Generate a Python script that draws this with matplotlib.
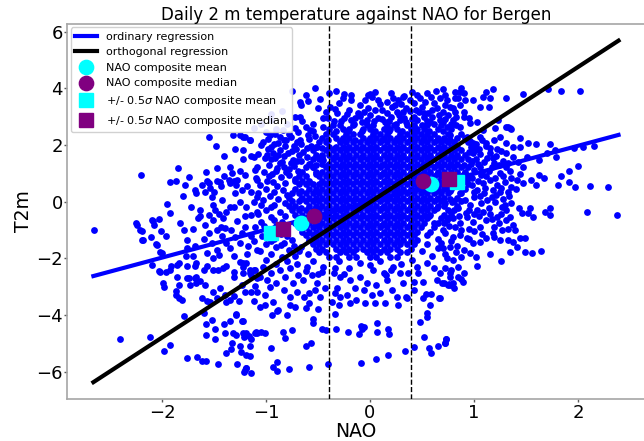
import matplotlib
matplotlib.use("Agg")
import matplotlib.pyplot as plt

# ---------------- data ----------------
left_points = [
(-2.65,-0.99),(-2.20,0.94),(-1.55,2.27),(-1.32,2.34),(-1.25,2.36),(-1.22,2.30),(-1.15,2.16),(-1.95,-0.09),(-2.25,-0.74),(-2.19,-1.03),(-2.09,-0.67),(-2.03,-0.61),(-2.01,-1.02),(-2.19,-1.35),(-2.11,-1.25),(-2.06,-1.48),(-2.02,-1.76),(-1.92,0.71),(-1.87,0.74),(-1.85,1.20),(-1.74,0.86),(-1.78,0.59),
(-1.14,1.63),(-1.22,1.50),(-1.35,1.24),(-1.33,1.00),(-1.25,1.10),(-1.20,0.94),(-1.11,1.12),(-1.09,0.77),(-1.28,0.77),(-1.31,0.74),(-1.29,0.59),(-1.36,0.77),(-1.35,0.65),(-1.44,0.68),(-1.47,0.72),(-1.43,0.54),(-1.57,0.72),(-1.55,0.65),(-1.62,0.59),(-1.54,0.48),(-1.50,0.36),(-1.68,0.42),(-1.67,0.30),(-1.59,0.36),(-1.51,-0.12),(-1.49,-0.29),
(-1.63,-0.29),(-1.63,-0.52),(-1.55,-0.47),(-1.65,-0.59),(-1.59,-0.82),(-1.51,-0.65),(-1.41,-0.59),(-1.38,-0.35),(-1.43,-0.88),(-1.39,-0.93),(-1.34,-1.00),(-1.47,-1.00),(-1.55,-1.12),(-1.20,-0.52),(-1.14,-0.47),(-1.09,-0.35),(-1.20,-0.88),(-1.11,-0.88),(-1.31,-0.17),(-1.25,0.00),(-1.19,-0.17),(-1.12,0.00),(-1.09,0.18),(-1.30,0.30),(-1.23,0.42),(-1.14,0.36),(-1.18,0.54),
(-2.10,-0.64),(-2.08,-0.82),(-2.05,-1.52),(-2.00,-1.82),(-1.92,-2.40),(-1.84,-2.17),(-1.77,-1.93),(-1.76,-1.64),(-1.68,-1.58),(-1.70,-1.93),(-1.68,-2.28),(-1.86,-2.64),(-1.76,-2.70),(-1.67,-2.64),(-1.60,-2.40),(-1.51,-2.00),(-1.47,-1.70),(-1.46,-2.40),(-1.38,-2.28),(-1.31,-1.93),(-1.25,-2.11),(-1.19,-2.17),(-1.12,-2.40),(-1.31,-2.64),(-1.22,-2.53),(-1.09,-1.70),(-1.57,-1.82),(-1.52,-1.46),(-1.38,-1.46),(-1.35,-1.64),(-1.25,-1.46),(-1.17,-1.58),(-1.14,-1.22),(-1.23,-1.10),(-2.21,-0.99),(-2.24,-0.82),(-2.18,-1.34),(-1.96,-1.22),(-1.92,-0.41),(-1.83,-0.76),(-1.79,-0.99),(-1.76,-1.34),
(-1.58,1.05),(-1.47,1.18),(-1.40,0.92),(-1.52,0.15),(-1.42,0.05),(-1.35,-0.20),(-1.45,-0.45),(-1.28,-0.68),(-1.30,-1.25),(-1.42,-1.20),(-1.60,-1.30),(-1.70,-0.95),(-1.72,-0.20),(-1.80,0.20),(-1.40,1.60),(-1.30,1.85),(-1.48,1.95),(-1.12,-1.40),(-1.18,-1.85),(-1.45,-1.88),
]

lower_left_points = [
(-2.40,-4.84),(-2.12,-4.77),(-1.92,-5.07),(-1.98,-5.28),(-1.76,-5.53),(-1.66,-5.49),(-1.62,-5.63),(-1.58,-5.63),(-1.46,-5.74),(-1.28,-5.74),(-1.20,-5.92),(-1.19,-5.88),(-1.14,-6.03),(-1.79,-4.02),(-1.58,-4.70),(-1.58,-4.32),(-1.52,-4.18),(-1.49,-4.50),(-1.40,-4.32),(-1.35,-4.21),(-1.32,-4.62),(-1.29,-4.00),(-1.22,-4.21),(-1.33,-4.98),(-1.34,-5.21),(-1.38,-5.35),(-1.25,-5.09),(-1.24,-5.29),(-1.15,-5.43),(-1.09,-4.62),(-1.16,-4.74),(-1.22,-4.62),(-1.14,-4.86),(-1.29,-4.71),(-1.39,-4.64),(-1.49,-4.86),
(-2.02,-2.47),(-1.96,-2.47),(-1.99,-2.88),(-1.98,-3.00),(-1.87,-3.14),(-1.87,-3.29),(-1.84,-3.40),(-1.81,-3.48),(-1.84,-2.94),(-1.74,-2.70),(-1.73,-2.94),(-1.68,-2.70),(-1.67,-2.87),(-1.63,-2.81),(-1.59,-2.94),(-1.62,-3.40),(-1.57,-3.52),(-1.60,-3.94),(-1.54,-3.55),(-1.51,-3.17),(-1.47,-3.40),(-1.44,-3.05),(-1.39,-3.29),(-1.38,-3.55),(-1.35,-3.47),(-1.31,-3.34),(-1.29,-3.97),(-1.26,-3.52),(-1.20,-3.17),(-1.23,-2.94),(-1.14,-3.20),(-1.12,-3.52),(-1.11,-2.97),(-1.09,-2.70),(-1.14,-2.58),
(-2.10,-2.23),(-2.03,-2.44),(-1.91,-2.28),(-1.86,-2.23),(-1.76,-2.26),(-1.67,-2.17),(-1.57,-2.28),(-1.51,-2.40),(-1.41,-2.34),(-1.31,-2.47),(-1.22,-2.17),(-1.15,-2.40),
]

lower_mid_points = [
(0.34,-5.25),(0.42,-5.11),(0.57,-5.17),(0.59,-5.32),(0.65,-5.08),(0.73,-4.85),(0.72,-4.97),(0.52,-4.79),(0.48,-4.26),(0.55,-3.92),(0.55,-4.07),(0.58,-3.65),(0.54,-3.26),(0.59,-3.26),(0.66,-3.38),(0.51,-3.40),(0.42,-3.12),(0.42,-2.85),(0.36,-3.38),(0.17,-5.41),(0.06,-5.54),(-0.09,-5.70),(0.17,-4.50),(0.18,-4.68),(0.07,-4.29),(0.07,-4.58),(-0.11,-4.68),(-0.08,-4.49),(-0.06,-4.43),(-0.09,-4.38),(-0.21,-4.60),(-0.33,-4.48),(-0.40,-5.74),(-0.34,-3.96),(-0.46,-4.49),(-0.42,-4.52),(-0.50,-3.79),(-0.59,-5.82),(-0.57,-5.00),(-0.62,-5.09),(-0.55,-4.14),(-0.55,-4.29),(-0.62,-3.75),(-0.59,-3.59),(-0.75,-4.54),(-0.84,-4.58),(-0.82,-4.82),(-0.78,-5.91),(-0.89,-5.66),(-0.93,-5.83),(-0.89,-5.98),(-0.95,-5.17),(-0.80,-4.00),(-0.89,-3.84),(-0.94,-3.98),(-1.05,-4.58),(-1.11,-4.64),(-1.10,-4.60),(-1.01,-4.64),(-1.19,-4.64),(-1.23,-4.22),(-1.21,-4.78),(-1.15,-5.09),(-1.19,-5.40),(-1.19,-5.87),(-1.21,-6.02),
(-1.22,-2.29),(-1.15,-2.53),(-1.11,-2.41),(-1.06,-2.65),(-1.03,-2.29),(-0.99,-2.76),(-0.95,-2.53),(-0.90,-2.88),(-0.87,-2.41),(-0.82,-2.65),(-0.77,-2.35),(-0.74,-2.88),(-0.69,-2.59),(-0.64,-2.76),(-0.61,-2.29),(-0.56,-2.59),(-0.51,-2.88),(-0.46,-2.47),(-0.43,-3.06),(-1.09,-3.18),(-1.01,-3.29),(-0.96,-3.00),(-0.83,-3.12),(-0.77,-3.35),(-0.70,-3.18),(-0.59,-3.23),(-0.53,-3.12),(-0.48,-3.35),(-0.37,-3.53),(-0.34,-3.23),(-0.30,-3.65),(-0.32,-3.06),(-0.29,-3.35),(-0.22,-3.29),(-0.19,-3.59),(-0.14,-3.06),(-0.13,-3.47),(-0.06,-3.12),(-0.05,-3.59),(-0.03,-2.88),(0.02,-3.29),(0.05,-3.59),(0.06,-2.94),(0.10,-3.23),(0.14,-3.59),(0.16,-2.76),(0.21,-3.12),(0.26,-3.35),(0.27,-3.65),(0.32,-2.88),(0.35,-3.35),(0.37,-2.53),(0.29,-2.53),(0.22,-2.29),(0.13,-2.53),(0.03,-2.41),(-0.10,-2.65),(-0.19,-2.76),(-0.29,-2.65),(-0.34,-2.35),(0.46,-2.53),(0.51,-2.82),(0.64,-2.76),(0.69,-2.88),(0.75,-2.94),(0.80,-2.88),(0.67,-2.53),(0.77,-2.53),
(-1.06,-3.71),(-1.01,-3.65),(-0.93,-3.53),(-0.88,-3.82),(-0.77,-3.65),(-0.72,-3.70),(-0.63,-3.35),
]

right_points = [
(2.38,-0.47),(2.09,-0.35),(2.29,0.52),(2.12,0.54),(1.97,0.51),(1.91,0.69),(1.81,0.59),(1.84,0.90),(1.91,1.07),(1.67,0.83),(1.73,-0.23),(1.73,-0.47),(1.68,-0.38),(1.64,-1.75),(1.56,-1.82),(1.49,-1.77),(1.26,-2.09),(1.15,-1.85),(1.03,-2.26),(1.02,-1.96),(0.81,-3.04),(0.76,-2.90),(0.89,-2.85),(0.88,-2.74),(0.90,-2.53),(0.72,-4.99),(0.73,-4.86),(0.67,-3.38),
(0.74,0.53),(0.80,0.65),(0.87,0.30),(0.93,0.77),(0.98,0.59),(1.03,0.41),(1.09,0.65),(1.15,0.77),(1.22,0.59),(1.30,0.71),(1.36,0.53),(1.41,0.77),(1.47,0.65),(1.55,0.77),(1.60,0.59),
(0.72,-0.06),(0.79,0.00),(0.85,-0.23),(0.91,0.06),(0.96,-0.12),(1.03,-0.29),(1.07,-0.06),(1.14,-0.23),(1.20,0.00),(1.27,-0.18),(1.31,-0.29),(1.36,-0.06),(1.43,-0.23),(1.46,-0.41),(1.52,-0.41),(1.57,-0.53),(1.54,-0.23),
(0.74,-0.65),(0.80,-0.59),(0.87,-0.76),(0.93,-0.53),(0.99,-0.71),(1.06,-0.88),(1.12,-0.65),(1.19,-0.88),(1.24,-0.76),(1.31,-0.65),(1.38,-0.82),(1.39,-1.00),
(0.72,-1.12),(0.80,-1.24),(0.87,-1.18),(0.93,-1.29),(0.99,-1.47),(1.06,-1.41),(1.12,-1.29),(1.19,-1.24),(1.25,-1.35),(1.33,-1.35),(1.38,-1.41),(1.44,-1.29),(1.49,-1.29),(1.41,-1.59),(1.35,-1.76),
(0.70,-1.65),(0.77,-1.59),(0.83,-1.76),(0.74,-2.00),(0.80,-2.06),(0.88,-1.94),(0.96,-1.82),(0.72,-2.35),(0.78,-2.41),(0.85,-2.29),(0.77,-2.65),(0.85,-2.65),(0.71,-2.88),(0.77,-2.94),
(0.70,3.96),(0.88,4.00),(1.18,3.96),(1.47,3.79),(1.71,3.97),(1.84,3.90),(2.02,3.90),(1.31,3.67),(1.33,2.63),(1.36,2.55),(1.44,2.24),(1.60,2.04),(1.73,2.03),(1.78,1.83),(1.96,1.88),(2.05,1.94),(2.15,1.98),(2.00,1.27),
(0.82,3.88),(0.90,3.83),(1.12,3.88),(0.99,3.59),(1.09,3.71),(1.15,3.65),(0.91,3.59),(0.82,3.65),(0.74,3.59),(0.87,3.41),(1.06,3.35),(1.14,3.33),(0.80,3.30),(0.90,3.00),(0.83,2.71),(0.87,2.65),(0.96,2.77),(1.03,2.82),(0.74,2.65),(1.09,2.53),(1.20,2.59),(1.23,2.88),(1.31,2.65),(1.35,2.59),(1.52,2.06),(1.44,1.94),(1.38,1.94),(1.31,2.06),(1.25,2.29),(1.19,2.18),(1.12,2.06),(1.06,2.29),(0.99,2.06),(0.93,2.29),(0.77,2.35),(0.72,2.18),(0.99,1.71),(1.15,1.71),(1.31,1.71),(1.38,1.59),(1.51,1.59),(1.63,1.47),(1.70,1.71),(1.79,1.59),(1.63,0.94),(1.47,1.24),(1.31,1.24),(1.19,1.35),(1.06,1.24),
(0.96,2.15),(1.02,2.02),(1.08,2.18),(1.15,1.90),(1.00,1.88),(0.95,1.75),(1.06,1.68),(1.13,1.55),(1.21,1.62),(1.26,1.78),(0.98,1.45),(1.04,1.32),(1.10,1.40),(1.17,1.22),(1.24,1.30),(1.33,1.38),(1.00,1.12),(1.07,0.95),(1.14,1.08),(1.20,0.82),(1.28,0.92),(1.36,0.85),(1.44,0.98),(0.98,0.85),(1.04,0.72),(1.11,0.50),(1.18,0.40),(1.26,0.48),(1.33,0.36),(1.00,0.35),(1.06,0.20),(1.13,0.05),(1.21,0.25),(1.28,0.10),(0.95,-0.30),(1.00,-0.45),(1.09,-0.38),(1.17,-0.62),(1.26,-0.42),(1.35,-0.55),
(0.65,-1.62),(0.72,-1.85),(0.78,-1.40),(0.84,-1.55),(0.90,-1.70),(0.95,-1.30),(0.88,-1.00),(0.82,-0.90),(0.76,-0.85),(0.92,-0.40),(0.86,-0.50),(0.78,-0.35),
]

upper_points = [
(-0.75,3.92),(-0.53,4.00),(-0.33,3.92),(-0.39,3.83),(-0.26,3.65),(-0.18,3.77),(-0.18,3.59),(-0.02,3.77),(0.02,3.71),(-0.05,3.59),(0.00,3.80),(0.33,3.72),(0.63,3.90),(0.87,3.87),
(0.16,3.53),(0.22,3.65),(0.27,3.59),(0.32,3.71),(0.38,3.59),(0.42,3.47),(0.48,3.65),(0.53,3.53),(0.59,3.71),(0.67,3.65),(0.72,3.77),(0.85,3.65),
(-0.67,3.53),(-0.66,3.41),(-0.72,3.00),(-0.67,2.98),(-0.58,2.53),(-0.32,3.12),(-0.40,2.94),(-0.14,2.94),(-0.06,3.18),(-0.03,2.88),(0.05,3.24),(0.16,3.12),(0.21,3.35),(0.26,3.18),(0.29,2.88),(0.35,3.30),(0.42,3.00),(0.50,3.35),(0.56,3.12),(0.64,3.30),(0.70,3.18),(0.77,3.35),(0.83,3.00),(0.67,2.88),
(-1.15,2.18),(-1.03,2.12),(-0.96,2.35),(-0.87,2.29),(-0.83,2.18),(-0.67,2.18),(-0.61,1.88),(-0.51,1.94),(-0.93,1.71),(-1.12,1.59),(-1.01,1.53),(-1.20,2.29),(-1.22,1.82),(-1.09,1.24),(-0.87,1.35),(-0.74,1.47),(-0.61,1.59),(-0.55,1.24),(-0.45,1.47),(-0.83,1.24),
(-0.35,2.85),(-0.25,2.95),(-0.18,2.88),(-0.10,3.02),(0.04,2.85),(0.12,2.92),(0.18,2.84),(0.28,3.05),(0.35,2.82),(0.40,2.92),(0.52,2.98),(0.58,2.82),(0.66,3.05),(0.72,2.92),(0.80,2.88),(-0.42,3.15),(-0.34,3.28),(-0.20,3.22),(-0.12,3.12),(-0.02,3.32),(0.12,3.25),(0.24,3.42),(0.32,3.15),(0.44,3.25),(0.52,3.12),(0.60,3.22),(0.72,3.42),(0.82,3.18),(-0.48,3.62),(-0.25,3.80),(0.05,3.88),(0.20,3.82),(0.40,3.88),(0.55,3.82),(-0.62,3.75),(-0.45,2.62),
]

halo_points = [
(-1.05,2.00),(-0.98,1.85),(-0.92,2.05),(-1.08,1.70),(-0.95,1.50),(-0.88,1.65),(-0.90,1.10),(-1.02,1.05),(-0.97,0.90),(-1.06,0.60),(-0.93,0.70),(-1.00,0.45),(-0.96,0.20),(-1.03,0.05),(-0.92,-0.10),(-1.00,-0.30),(-0.95,-0.55),(-1.05,-0.70),(-0.90,-0.85),(-0.98,-1.00),(-1.04,-1.20),(-0.92,-1.30),(-0.86,-1.15),(-1.00,-1.50),(-0.90,-1.60),(-0.83,-1.45),(-1.06,-1.75),(-0.95,-1.85),(-0.85,-1.95),(-0.78,-1.70),(-0.72,-1.90),(-0.66,-1.60),(-0.60,-1.85),(-0.80,-2.10),(-0.70,-2.20),(-0.55,-2.10),(-0.45,-2.30),(-0.62,-2.45),(-0.90,-2.20),(-1.00,-2.05),
(-0.78,2.40),(-0.72,2.60),(-0.80,2.75),(-0.90,2.55),(-1.00,2.45),(-0.65,2.85),(-0.60,2.35),(-0.70,2.10),(-0.82,1.95),(-0.75,1.80),(-0.68,1.65),(-0.85,1.40),(-0.78,1.15),(-0.70,1.45),(-1.05,2.75),(-0.95,3.10),(-1.12,2.60),
(-0.50,3.30),(-0.45,2.95),(-0.38,3.35),(-0.28,2.85),(-0.22,3.10),(-0.10,3.40),(-0.08,2.80),(0.00,3.05),(0.08,2.95),(0.10,3.45),(0.14,2.80),(0.20,3.00),(0.30,3.45),(0.33,2.95),(0.38,3.20),(0.45,2.90),(0.47,3.15),(0.55,2.85),(0.60,3.00),(0.62,3.50),(0.70,2.80),(0.75,3.05),(0.78,2.75),(0.90,3.15),(0.95,2.95),(-0.85,3.20),(-0.95,2.90),(-0.60,3.55),(-0.30,3.50),(0.08,3.60),(0.45,3.75),(-0.55,2.75),(-0.15,2.75),(0.25,2.75),(0.50,2.70),(0.62,2.75),
(1.02,1.50),(1.08,1.05),(1.12,0.90),(1.18,1.55),(1.25,1.00),(1.28,1.45),(1.35,1.10),(1.42,1.40),(1.05,1.85),(1.12,1.95),(1.22,1.85),(1.10,0.30),(1.17,0.15),(1.25,0.35),(1.34,0.20),(1.40,0.45),(1.00,0.15),(1.05,-0.50),(1.15,-0.45),(1.22,-0.55),(1.30,-0.10),(1.27,-1.00),(1.18,-1.10),(1.08,-1.15),(1.00,-1.05),(0.95,-0.95),(1.33,-0.95),
(-0.30,-2.10),(-0.20,-2.35),(-0.10,-2.15),(0.00,-2.25),(0.10,-2.10),(0.20,-2.40),(0.30,-2.20),(0.40,-2.05),(0.45,-2.30),(0.55,-2.15),(0.62,-2.35),(0.60,-1.90),(0.50,-1.75),(0.55,-1.50),(0.65,-1.30),(0.70,-1.00),(0.62,-0.75),(0.68,-1.45),(-0.35,-2.50),(-0.25,-2.55),(0.15,-2.60),(-0.50,-2.55),
(-0.98,2.22),(-0.91,2.38),(-0.84,2.52),(-0.76,2.28),(-0.69,2.45),(-0.62,2.62),(-0.55,2.48),(-0.88,2.08),(-0.81,2.16),(-0.73,1.98),(-0.66,2.05),(-0.59,2.22),(-0.53,2.32),(-0.95,1.92),(-0.87,1.83),(-0.79,1.72),(-0.71,1.86),(-0.64,1.76),(-0.57,1.95),(-0.99,1.66),(-0.91,1.55),(-0.83,1.60),(-0.76,1.38),(-0.66,1.42),(-0.58,1.33),(-0.97,1.28),(-0.89,1.20),(-0.81,1.05),(-0.73,1.25),(-0.69,1.08),(-0.94,0.98),(-0.86,0.88),(-0.78,0.95),(-0.72,0.80),(-0.99,0.72),(-0.89,0.55),(-0.82,0.66),(-0.84,0.40),(-0.92,0.33),(-0.80,0.22),
(-0.88,0.10),(-0.82,-0.05),(-0.95,-0.20),(-0.87,-0.35),(-0.82,-0.50),(-0.92,-0.65),(-0.85,-0.72),(-0.80,-0.95),(-0.89,-1.05),(-0.80,-1.22),(-0.75,-1.35),(-0.86,-1.52),(-0.73,-1.55),(-0.68,-1.75),(-0.95,-1.40),(-1.02,-0.85),(-1.08,-0.45),(-1.05,-0.10),(-1.08,0.30),(-1.10,0.85),
]

# dense core of the cloud: one T2m level per row, NAO values along that row
core_t2m = [2.70, 2.56, 2.39, 2.26, 2.11, 1.94, 1.81, 1.64, 1.51, 1.34, 1.21, 1.04,
            0.91, 0.74, 0.61, 0.44, 0.31, 0.14, 0.01, -0.16, -0.29, -0.46, -0.59, -0.76,
            -0.89, -1.06, -1.19, -1.36, -1.49, -1.66, -1.79, -1.96]
core_nao = [
[-0.36,-0.29,-0.16,-0.03,0.03,0.16,0.23,0.36,0.42,0.55,0.68],
[-0.39,-0.26,-0.20,-0.07,0.00,0.13,0.19,0.26,0.39,0.45,0.52,0.65,0.78],
[-0.42,-0.36,-0.23,-0.16,-0.10,0.03,0.10,0.16,0.29,0.36,0.42,0.49,0.55,0.62,0.75,0.88],
[-0.46,-0.33,-0.26,-0.20,-0.07,0.00,0.06,0.13,0.19,0.26,0.32,0.39,0.45,0.52,0.58,0.65,0.71,0.84,0.91],
[-0.49,-0.42,-0.29,-0.23,-0.16,-0.10,-0.03,0.03,0.10,0.16,0.23,0.29,0.36,0.42,0.49,0.55,0.62,0.68,0.75,0.81,0.94],
[-0.52,-0.39,-0.33,-0.26,-0.20,-0.13,-0.07,0.00,0.06,0.13,0.19,0.26,0.32,0.39,0.45,0.52,0.58,0.65,0.71,0.78,0.84,0.97],
[-0.55,-0.42,-0.36,-0.29,-0.23,-0.16,-0.10,-0.03,0.03,0.10,0.16,0.23,0.29,0.36,0.42,0.49,0.55,0.62,0.68,0.75,0.81,0.88,1.01],
[-0.52,-0.46,-0.39,-0.33,-0.26,-0.20,-0.13,-0.07,0.00,0.06,0.13,0.19,0.26,0.32,0.39,0.45,0.52,0.58,0.65,0.71,0.78,0.84,0.91],
[-0.55,-0.49,-0.36,-0.29,-0.23,-0.16,-0.10,-0.03,0.03,0.10,0.16,0.23,0.29,0.36,0.42,0.49,0.55,0.62,0.68,0.75,0.81,0.88,0.94],
[-0.59,-0.46,-0.39,-0.33,-0.26,-0.20,-0.13,-0.07,0.00,0.06,0.13,0.19,0.26,0.32,0.39,0.45,0.52,0.58,0.65,0.71,0.78,0.84,0.97],
[-0.62,-0.55,-0.42,-0.36,-0.29,-0.23,-0.16,-0.10,-0.03,0.03,0.10,0.16,0.23,0.29,0.36,0.42,0.49,0.55,0.62,0.68,0.75,0.81,0.88,0.94],
[-0.65,-0.52,-0.46,-0.39,-0.33,-0.26,-0.20,-0.13,-0.07,0.00,0.06,0.13,0.19,0.26,0.32,0.39,0.45,0.52,0.58,0.65,0.71,0.78,0.84,0.91],
[-0.68,-0.62,-0.49,-0.42,-0.36,-0.29,-0.23,-0.16,-0.10,-0.03,0.03,0.10,0.16,0.23,0.29,0.36,0.42,0.49,0.55,0.62,0.68,0.75,0.81,0.88,0.94],
[-0.72,-0.65,-0.59,-0.46,-0.39,-0.33,-0.26,-0.20,-0.13,-0.07,0.00,0.06,0.13,0.19,0.26,0.32,0.39,0.45,0.52,0.58,0.65,0.71,0.78,0.84,0.91],
[-0.68,-0.62,-0.55,-0.49,-0.42,-0.36,-0.29,-0.23,-0.16,-0.10,-0.03,0.03,0.10,0.16,0.23,0.29,0.36,0.42,0.49,0.55,0.62,0.68,0.75,0.81,0.94],
[-0.72,-0.59,-0.52,-0.46,-0.39,-0.33,-0.26,-0.20,-0.13,-0.07,0.00,0.06,0.13,0.19,0.26,0.32,0.39,0.45,0.52,0.58,0.65,0.71,0.78,0.91],
[-0.75,-0.68,-0.62,-0.55,-0.49,-0.42,-0.36,-0.29,-0.23,-0.16,-0.10,-0.03,0.03,0.10,0.16,0.23,0.29,0.36,0.42,0.49,0.55,0.62,0.68,0.75,0.88],
[-0.78,-0.65,-0.59,-0.52,-0.46,-0.39,-0.33,-0.26,-0.20,-0.13,-0.07,0.00,0.06,0.13,0.19,0.26,0.32,0.39,0.45,0.52,0.58,0.65,0.71,0.84],
[-0.75,-0.68,-0.62,-0.55,-0.49,-0.42,-0.36,-0.29,-0.23,-0.16,-0.10,-0.03,0.03,0.10,0.16,0.23,0.29,0.36,0.42,0.49,0.55,0.62,0.68,0.81,0.88],
[-0.78,-0.72,-0.59,-0.52,-0.46,-0.39,-0.33,-0.26,-0.20,-0.13,-0.07,0.00,0.06,0.13,0.19,0.26,0.32,0.39,0.45,0.52,0.58,0.65,0.71,0.84],
[-0.75,-0.68,-0.62,-0.55,-0.49,-0.42,-0.36,-0.29,-0.23,-0.16,-0.10,-0.03,0.03,0.10,0.16,0.23,0.29,0.36,0.42,0.49,0.55,0.62,0.75,0.81],
[-0.72,-0.65,-0.59,-0.52,-0.46,-0.39,-0.33,-0.26,-0.20,-0.13,-0.07,0.00,0.06,0.13,0.19,0.26,0.32,0.39,0.45,0.52,0.58,0.71,0.78],
[-0.68,-0.62,-0.55,-0.49,-0.42,-0.36,-0.29,-0.23,-0.16,-0.10,-0.03,0.03,0.10,0.16,0.23,0.29,0.36,0.42,0.49,0.55,0.68,0.75],
[-0.72,-0.59,-0.52,-0.46,-0.39,-0.33,-0.26,-0.20,-0.13,-0.07,0.00,0.06,0.13,0.19,0.26,0.32,0.39,0.45,0.52,0.65,0.71],
[-0.68,-0.62,-0.55,-0.49,-0.42,-0.36,-0.29,-0.23,-0.16,-0.10,-0.03,0.03,0.10,0.16,0.23,0.29,0.36,0.42,0.49,0.62],
[-0.65,-0.59,-0.52,-0.46,-0.39,-0.33,-0.26,-0.20,-0.13,-0.07,0.00,0.06,0.13,0.19,0.26,0.32,0.39,0.45,0.58],
[-0.62,-0.55,-0.49,-0.42,-0.36,-0.29,-0.23,-0.16,-0.10,-0.03,0.03,0.10,0.16,0.23,0.29,0.36,0.42,0.55],
[-0.59,-0.52,-0.46,-0.39,-0.33,-0.26,-0.20,-0.13,-0.07,0.00,0.06,0.13,0.19,0.26,0.32,0.39,0.45],
[-0.55,-0.49,-0.42,-0.36,-0.29,-0.23,-0.16,-0.10,-0.03,0.03,0.10,0.16,0.23,0.29,0.36,0.42],
[-0.52,-0.46,-0.33,-0.26,-0.20,-0.13,-0.07,0.00,0.06,0.13,0.19,0.26,0.39],
[-0.49,-0.42,-0.29,-0.23,-0.16,-0.03,0.03,0.10,0.16,0.29,0.36],
[-0.39,-0.33,-0.20,-0.13,0.00,0.06,0.19,0.26],
]

# extra rows in the saturated heart of the cloud
heart_t2m = [2.48, 2.18, 1.88, 1.58, 1.28, 0.98, 0.68, 0.38, 0.08, -0.22, -0.52, -0.82]
heart_nao = [
[-0.33,-0.21,-0.08,0.05,0.18,0.31,0.44,0.57,0.70],
[-0.40,-0.27,-0.14,-0.01,0.12,0.25,0.38,0.51,0.64,0.77],
[-0.46,-0.34,-0.21,-0.08,0.05,0.18,0.31,0.44,0.57,0.70,0.83],
[-0.46,-0.34,-0.21,-0.08,0.05,0.18,0.31,0.44,0.57,0.70,0.83],
[-0.52,-0.40,-0.27,-0.14,-0.01,0.12,0.25,0.38,0.51,0.64,0.77,0.90],
[-0.52,-0.40,-0.27,-0.14,-0.01,0.12,0.25,0.38,0.51,0.64,0.77,0.90],
[-0.59,-0.46,-0.34,-0.21,-0.08,0.05,0.18,0.31,0.44,0.57,0.70,0.83],
[-0.66,-0.52,-0.40,-0.27,-0.14,-0.01,0.12,0.25,0.38,0.51,0.64,0.77],
[-0.66,-0.52,-0.40,-0.27,-0.14,-0.01,0.12,0.25,0.38,0.51,0.64,0.77],
[-0.66,-0.52,-0.40,-0.27,-0.14,-0.01,0.12,0.25,0.38,0.51,0.64],
[-0.59,-0.46,-0.34,-0.21,-0.08,0.05,0.18,0.31,0.44,0.57],
[-0.52,-0.40,-0.27,-0.14,-0.01,0.12,0.25,0.38],
]

# regression lines (over the NAO range of the data)
nao_range = [-2.66, 2.39]
ols_slope, ols_intercept = 0.986, 0.0
odr_slope, odr_intercept = 2.386, -0.02

# +/- 0.5 sigma NAO thresholds
nao_threshold = 0.39

# composites: [negative NAO, positive NAO]
mean_nao, mean_t2m = [-0.66, 0.59], [-0.74, 0.61]
median_nao, median_t2m = [-0.54, 0.51], [-0.49, 0.73]
sig_mean_nao, sig_mean_t2m = [-0.95, 0.84], [-1.10, 0.68]
sig_median_nao, sig_median_t2m = [-0.84, 0.76], [-0.95, 0.79]

# ---------------- assemble ----------------
pairs = left_points + lower_left_points + lower_mid_points + right_points + upper_points + halo_points
nao = [p[0] for p in pairs]
t2m = [p[1] for p in pairs]
for levels, rows in ((core_t2m, core_nao), (heart_t2m, heart_nao)):
    for y, row in zip(levels, rows):
        nao.extend(row)
        t2m.extend([y] * len(row))

# ---------------- plot ----------------
fig = plt.figure(figsize=(6.44, 4.41), dpi=100)
ax = fig.add_axes([0.1048, 0.0959, 0.896, 0.8497])

ax.scatter(nao, t2m, s=24, c='#0000ff', linewidths=0, zorder=2)
ax.axvline(-nao_threshold, color='k', ls='--', lw=1.0, zorder=3)
ax.axvline(nao_threshold, color='k', ls='--', lw=1.0, zorder=3)

ax.plot(nao_range, [ols_intercept + ols_slope * x for x in nao_range],
        color='#0000ff', lw=3, label='ordinary regression', zorder=4)
ax.plot(nao_range, [odr_intercept + odr_slope * x for x in nao_range],
        color='black', lw=3, label='orthogonal regression', zorder=4)

ms = 10.3
ax.plot(mean_nao, mean_t2m, 'o', color='#00ffff', ms=ms, ls='none', label='NAO composite mean', zorder=5)
ax.plot(median_nao, median_t2m, 'o', color='#800080', ms=ms, ls='none', label='NAO composite median', zorder=5)
ax.plot(sig_mean_nao, sig_mean_t2m, 's', color='#00ffff', ms=ms, ls='none',
        label=r'+/- 0.5$\sigma$ NAO composite mean', zorder=5)
ax.plot(sig_median_nao, sig_median_t2m, 's', color='#800080', ms=ms, ls='none',
        label=r'+/- 0.5$\sigma$ NAO composite median', zorder=5)

ax.set_xlim(-2.909, 2.64)
ax.set_ylim(-6.95, 6.27)
ax.set_xticks([-2, -1, 0, 1, 2])
ax.set_yticks([-6, -4, -2, 0, 2, 4, 6])
ax.tick_params(labelsize=13, length=2, width=1, color='0.35', pad=1.5)
for sp in ax.spines.values():
    sp.set_color('0.65')
    sp.set_linewidth(1.2)

ax.set_xlabel('NAO', fontsize=13.5, labelpad=0)
ax.set_ylabel('T2m', fontsize=13.5, labelpad=2)
ax.set_title('Daily 2 m temperature against NAO for Bergen', fontsize=12, pad=0.5)

leg = ax.legend(loc='upper left', fontsize=8, numpoints=1, framealpha=0.9,
                borderaxespad=0.3, handlelength=2.0, labelspacing=0.5)
leg.get_frame().set_edgecolor('0.8')

fig.savefig('out.png', dpi=100)
